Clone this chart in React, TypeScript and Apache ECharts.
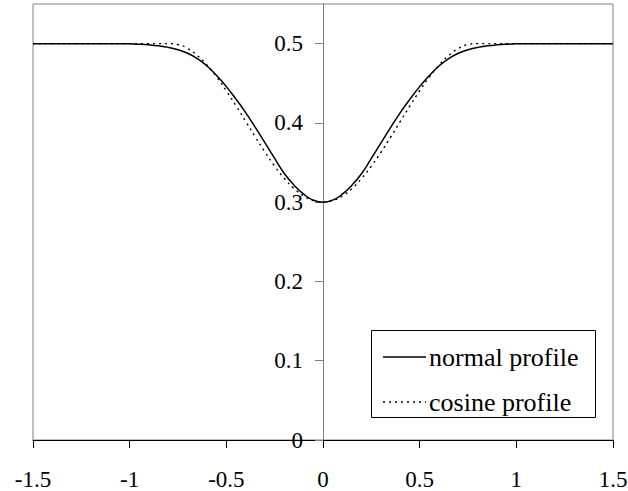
import React, { useEffect, useRef } from "react";
import * as echarts from "echarts";

const xValues = [
  -1.5, -1.25, -1.05, -1.0, -0.95, -0.9, -0.85, -0.8, -0.75, -0.7, -0.65, -0.6,
  -0.55, -0.5, -0.45, -0.4, -0.35, -0.3, -0.25, -0.2, -0.15, -0.1, -0.05, 0,
  0.05, 0.1, 0.15, 0.2, 0.25, 0.3, 0.35, 0.4, 0.45, 0.5, 0.55, 0.6, 0.65, 0.7,
  0.75, 0.8, 0.85, 0.9, 0.95, 1.0, 1.05, 1.25, 1.5,
];

const normalProfile = [
  0.5, 0.5, 0.5, 0.4997, 0.4993, 0.4985, 0.4972, 0.4953, 0.4922, 0.4878, 0.4812, 0.4718,
  0.4598, 0.4458, 0.43, 0.413, 0.3943, 0.3748, 0.3552, 0.3362, 0.3215, 0.3101, 0.3026, 0.3,
  0.3026, 0.3101, 0.3215, 0.3362, 0.3552, 0.3748, 0.3943, 0.413, 0.43, 0.4458, 0.4598, 0.4718, 0.4812, 0.4878,
  0.4922, 0.4953, 0.4972, 0.4985, 0.4993, 0.4997, 0.5, 0.5, 0.5,
];

const cosineProfile = [
  0.5, 0.5, 0.5, 0.5, 0.5, 0.5, 0.5, 0.5, 0.4988, 0.4938, 0.4849, 0.4729,
  0.4579, 0.4405, 0.4217, 0.402, 0.3822, 0.3631, 0.3455, 0.33, 0.3173, 0.3078, 0.302, 0.3,
  0.302, 0.3078, 0.3173, 0.33, 0.3455, 0.3631, 0.3822, 0.402, 0.4217, 0.4405, 0.4579, 0.4729, 0.4849, 0.4938,
  0.4988, 0.5, 0.5, 0.5, 0.5, 0.5, 0.5, 0.5, 0.5,
];

const yTicks = [0, 0.1, 0.2, 0.3, 0.4, 0.5];
const seriesNames = ["normal profile", "cosine profile"];

const FONT = "Liberation Serif";

export default function App() {
  const ref = useRef<HTMLDivElement>(null);
  useEffect(() => {
    if (!ref.current) return;
    const chart = echarts.init(ref.current, undefined, { renderer: "svg" });
    const pairs = (ys: number[]) => xValues.map((x, i) => [x, ys[i]]);
    chart.setOption({
      animation: false,
      backgroundColor: "#fff",
      textStyle: { fontFamily: FONT },
      grid: {
        left: 33,
        right: 15,
        top: 4,
        bottom: 51,
        show: true,
        borderColor: "#808080",
        borderWidth: 1,
        containLabel: false,
        outerBoundsMode: "none",
      },
      xAxis: {
        type: "value",
        min: -1.5,
        max: 1.5,
        interval: 0.5,
        axisLine: { show: true, onZero: false, lineStyle: { color: "#000", width: 1 } },
        axisTick: { show: true, inside: false, length: 8, lineStyle: { color: "#000" } },
        axisLabel: { margin: 28, fontSize: 23, fontFamily: FONT, color: "#000" },
        splitLine: { show: false },
      },
      yAxis: {
        type: "value",
        min: 0,
        max: 0.55,
        position: "left",
        offset: -290,
        axisLine: { show: true, onZero: false, lineStyle: { color: "#808080", width: 1 } },
        axisTick: { show: true, inside: false, length: 8, customValues: yTicks, lineStyle: { color: "#808080" } },
        axisLabel: { margin: 20, fontSize: 23, fontFamily: FONT, color: "#000", customValues: yTicks },
        splitLine: { show: false },
      },
      graphic: [
        {
          type: "rect",
          left: 371,
          top: 330,
          shape: { width: 224, height: 87 },
          style: { fill: "#fff", stroke: "#000", lineWidth: 1 },
          z: 10,
        },
        {
          type: "line",
          shape: { x1: 383, y1: 357, x2: 426, y2: 357 },
          style: { stroke: "#000", lineWidth: 1.6 },
          z: 11,
        },
        {
          type: "text",
          x: 429,
          y: 357,
          style: {
            text: seriesNames[0],
            font: `26px ${FONT}`,
            fill: "#000",
            verticalAlign: "middle",
            align: "left",
          },
          z: 11,
        },
        {
          type: "line",
          shape: { x1: 383, y1: 402, x2: 426, y2: 402 },
          style: { stroke: "#000", lineWidth: 1.4, lineDash: [2, 4] },
          z: 11,
        },
        {
          type: "text",
          x: 429,
          y: 402,
          style: {
            text: seriesNames[1],
            font: `26px ${FONT}`,
            fill: "#000",
            verticalAlign: "middle",
            align: "left",
          },
          z: 11,
        },
      ],
      series: [
        {
          name: seriesNames[0],
          type: "line",
          data: pairs(normalProfile),
          symbol: "none",
          smooth: 0.5,
          lineStyle: { color: "#000", width: 1.5, type: "solid" },
          itemStyle: { color: "#000" },
          z: 3,
        },
        {
          name: seriesNames[1],
          type: "line",
          data: pairs(cosineProfile),
          symbol: "none",
          smooth: 0.5,
          lineStyle: { color: "#000", width: 1.4, type: [2, 4] },
          itemStyle: { color: "#000" },
          z: 2,
        },
      ],
    });
    return () => chart.dispose();
  }, []);
  return (
    <div
      ref={ref}
      style={{ position: "absolute", left: 0, top: 0, width: 628, height: 491 }}
    />
  );
}
